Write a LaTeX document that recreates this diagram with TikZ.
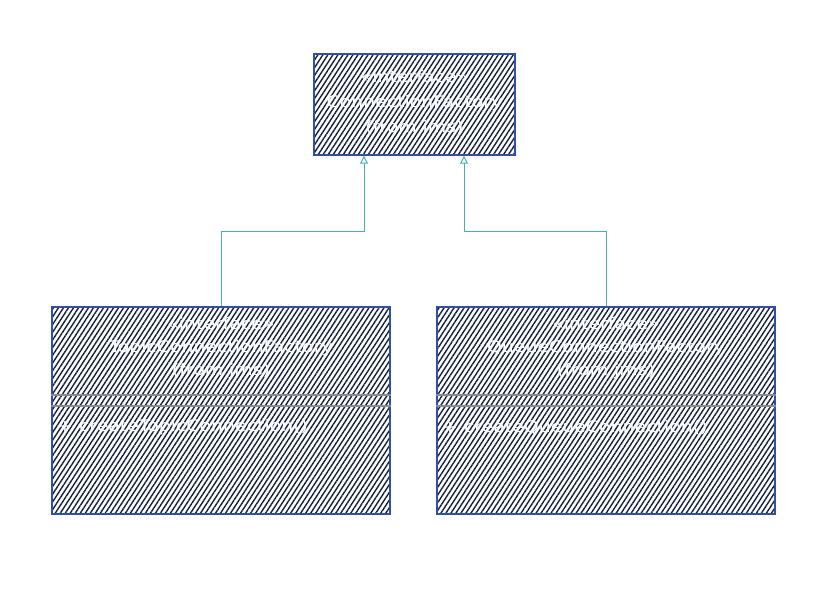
\documentclass[tikz,border=0pt]{standalone}
\usepackage{fontspec}
\setmainfont{DejaVu Sans}
\newfontfamily\widefont[FakeStretch=1.18]{DejaVu Sans}
\usetikzlibrary{patterns.meta,arrows.meta,calc}
\definecolor{hatch}{HTML}{16203D}
\definecolor{boxline}{HTML}{2F4FA8}
\definecolor{sepline}{HTML}{8A8A8A}
\definecolor{conncol}{HTML}{45B2AE}
\tikzset{
  classbox/.style={draw=boxline, line width=1.1pt, inner sep=0pt,
    pattern={Lines[angle=57,distance=4.2pt,line width=1.4pt]}, pattern color=hatch},
  txt/.style={text=white, font=\widefont\fontsize{16}{23}\selectfont, align=center, inner sep=0pt},
  mtxt/.style={text=white, font=\widefont\fontsize{16}{23}\selectfont, anchor=west, inner sep=0pt},
  sep/.style={draw=sepline, line width=1.2pt},
  conn/.style={draw=conncol, line width=1pt, -{Triangle[open,width=8pt,length=8pt]}}
}
\begin{document}
\begin{tikzpicture}[x=1pt,y=-1pt]
\useasboundingbox (0,0) rectangle (827,606);
% boxes
\node[classbox, minimum width=201pt, minimum height=101pt] (top) at (414.5,104.5) {};
\node[classbox, minimum width=338pt, minimum height=207pt] (left) at (221,410.5) {};
\node[classbox, minimum width=338pt, minimum height=207pt] (right) at (606,410.5) {};
% separators
\draw[sep] (left.west |- 0,395) -- (left.east |- 0,395);
\draw[sep] (left.west |- 0,406) -- (left.east |- 0,406);
\draw[sep] (right.west |- 0,395) -- (right.east |- 0,395);
\draw[sep] (right.west |- 0,406) -- (right.east |- 0,406);
% texts
\node[txt, font=\widefont\fontsize{16}{25}\selectfont] (toptxt) at (414.5,103) {«interface»\\ConnectionFactory\\(from jms)};
\node[txt] (lefttxt) at (221,348) {«interface»\\TopicConnectionFactory\\(from jms)};
\node[txt] (righttxt) at (606,348) {«interface»\\QueueConnectionFactory\\(from jms)};
\node[mtxt] (leftm) at (57,427) {+ createTopicConnection()};
\node[mtxt] (rightm) at (442,427) {+ createQueueConnection()};
% connectors
\coordinate (ta) at ($(top.south)+(-50.5,0)$);
\coordinate (tb) at ($(top.south)+(49.5,0)$);
\draw[conn] (left.north) -- (left.north |- 0,231) -| (ta);
\draw[conn] (right.north) -- (right.north |- 0,231) -| (tb);
\end{tikzpicture}
\end{document}
